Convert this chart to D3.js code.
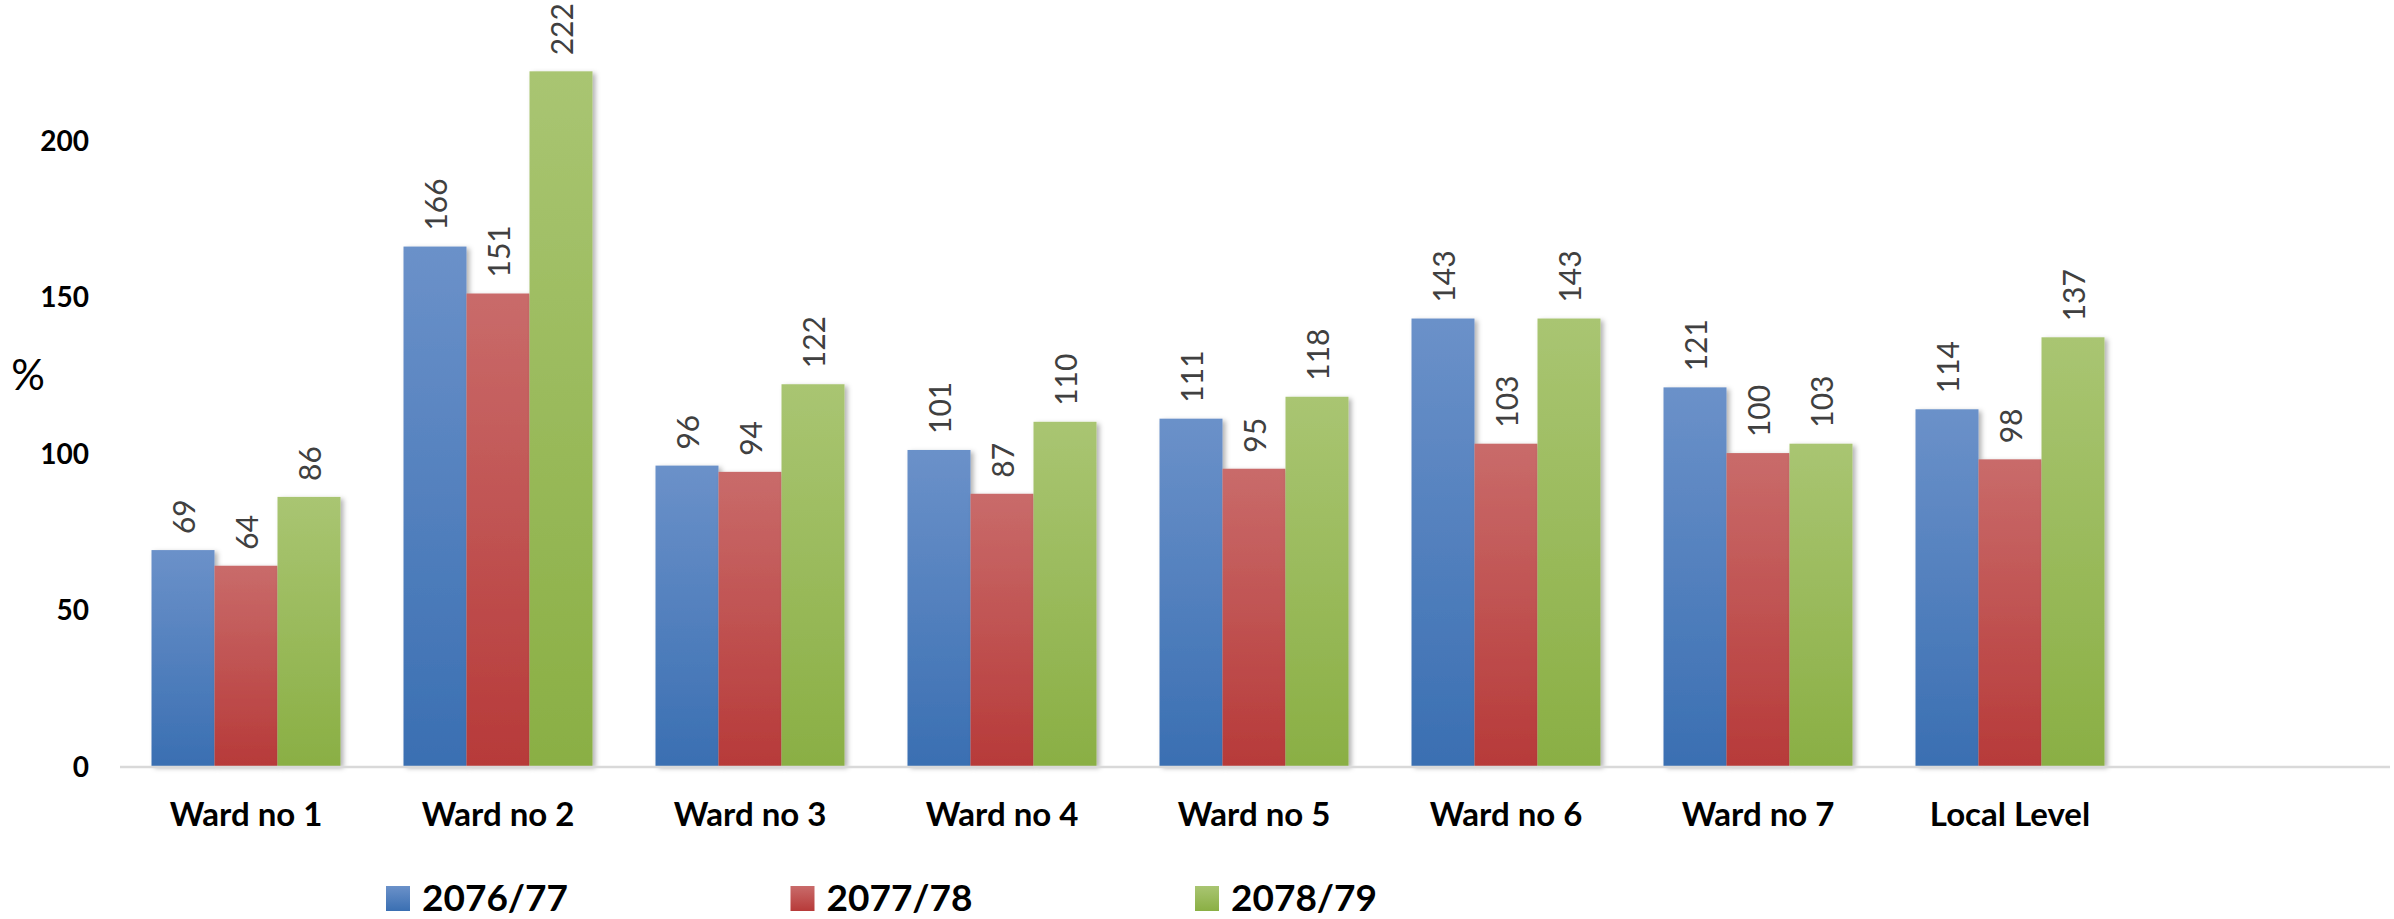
<!DOCTYPE html>
<html>
<head>
<meta charset="utf-8">
<script src="https://cdn.jsdelivr.net/npm/d3@7"></script>
<style>
    html, body { margin: 0; padding: 0; background: #fff; }
    svg { display: block; }
</style>
</head>
<body>
<svg id="chart" width="2394" height="919"></svg>
<script>
// data
const categories = ["Ward no 1", "Ward no 2", "Ward no 3", "Ward no 4", "Ward no 5", "Ward no 6", "Ward no 7", "Local Level"];
const seriesNames = ["2076/77", "2077/78", "2078/79"];
const values2076 = [69, 166, 96, 101, 111, 143, 121, 114];
const values2077 = [64, 151, 94, 87, 95, 103, 100, 98];
const values2078 = [86, 222, 122, 110, 118, 143, 103, 137];
const yTicks = [0, 50, 100, 150, 200];
const yLabel = "%";

const seriesValues = [values2076, values2077, values2078];
const FONT = "Lato, 'Open Sans', sans-serif";

const svg = d3.select("#chart");
const W = 2394;

// gradients: light at top, darker at bottom
const palette = [
    { top: "#6b91c9", bottom: "#3a6fb2" },
    { top: "#c96b6a", bottom: "#b73a39" },
    { top: "#a9c572", bottom: "#8aaf44" }
];
const defs = svg.append("defs");
palette.forEach((c, i) => {
    const lg = defs.append("linearGradient")
        .attr("id", "grad" + i)
        .attr("x1", 0).attr("y1", 0).attr("x2", 0).attr("y2", 1);
    lg.append("stop").attr("offset", "0%").attr("stop-color", c.top);
    lg.append("stop").attr("offset", "100%").attr("stop-color", c.bottom);
});
defs.append("filter").attr("id", "shadow")
    .attr("x", "-20%").attr("y", "-5%").attr("width", "140%").attr("height", "110%")
    .append("feDropShadow")
    .attr("dx", 3).attr("dy", 2).attr("stdDeviation", 2.5)
    .attr("flood-color", "#000").attr("flood-opacity", 0.3);

const x = d3.scaleBand()
    .domain(categories)
    .range([120, 2136])
    .paddingInner(0.25)
    .paddingOuter(0.125);

const xInner = d3.scaleBand()
    .domain(seriesNames)
    .range([0, x.bandwidth()]);

const y = d3.scaleLinear()
    .domain([0, 240])
    .range([766, 15]);

// y axis: labels only
const yAxis = svg.append("g")
    .attr("transform", "translate(89,0)")
    .call(d3.axisLeft(y).tickValues(yTicks).tickSize(0).tickPadding(0));
yAxis.select(".domain").remove();
yAxis.selectAll("text")
    .style("font", `700 28px ${FONT}`)
    .attr("fill", "#000")
    .attr("dy", "0.36em");

svg.append("text")
    .attr("x", 28).attr("y", 374)
    .attr("text-anchor", "middle")
    .attr("dominant-baseline", "central")
    .style("font", `400 42px ${FONT}`)
    .attr("fill", "#000")
    .text(yLabel);

// bars
const groups = svg.append("g").selectAll("g.cat")
    .data(categories)
    .join("g")
    .attr("class", "cat")
    .attr("transform", d => `translate(${x(d)},0)`);

const cells = groups.selectAll("g.bar")
    .data((cat, ci) => seriesNames.map((s, si) => ({ s, si, v: seriesValues[si][ci] })))
    .join("g")
    .attr("class", "bar");

cells.append("rect")
    .attr("x", d => xInner(d.s))
    .attr("y", d => y(d.v))
    .attr("width", xInner.bandwidth())
    .attr("height", d => y(0) - y(d.v))
    .attr("fill", d => `url(#grad${d.si})`)
    .attr("filter", "url(#shadow)");

cells.append("text")
    .attr("transform", d => `translate(${xInner(d.s) + xInner.bandwidth() / 2},${y(d.v) - 16}) rotate(-90)`)
    .attr("text-anchor", "start")
    .attr("dominant-baseline", "central")
    .style("font", `400 30px ${FONT}`)
    .attr("fill", "#404040")
    .text(d => d.v);

// x axis line
svg.append("line")
    .attr("x1", 120).attr("x2", W - 4)
    .attr("y1", y(0) + 1).attr("y2", y(0) + 1)
    .attr("stroke", "#d9d9d9")
    .attr("stroke-width", 2.5);

const xAxis = svg.append("g")
    .attr("transform", `translate(0,${y(0)})`)
    .call(d3.axisBottom(x).tickSize(0).tickPadding(0));
xAxis.select(".domain").remove();
xAxis.selectAll("text")
    .attr("y", 60)
    .attr("dy", 0)
    .style("font", `700 33px ${FONT}`)
    .attr("fill", "#000");

// legend
const legend = svg.append("g");
seriesNames.forEach((s, i) => {
    const row = legend.append("g").attr("transform", `translate(${386 + i * 404.5},886)`);
    row.append("rect").attr("width", 24).attr("height", 25).attr("fill", `url(#grad${i})`);
    row.append("text")
        .attr("x", 36).attr("y", 25)
        .style("font", `700 37px ${FONT}`)
        .attr("fill", "#000")
        .text(s);
});
</script>
</body>
</html>
